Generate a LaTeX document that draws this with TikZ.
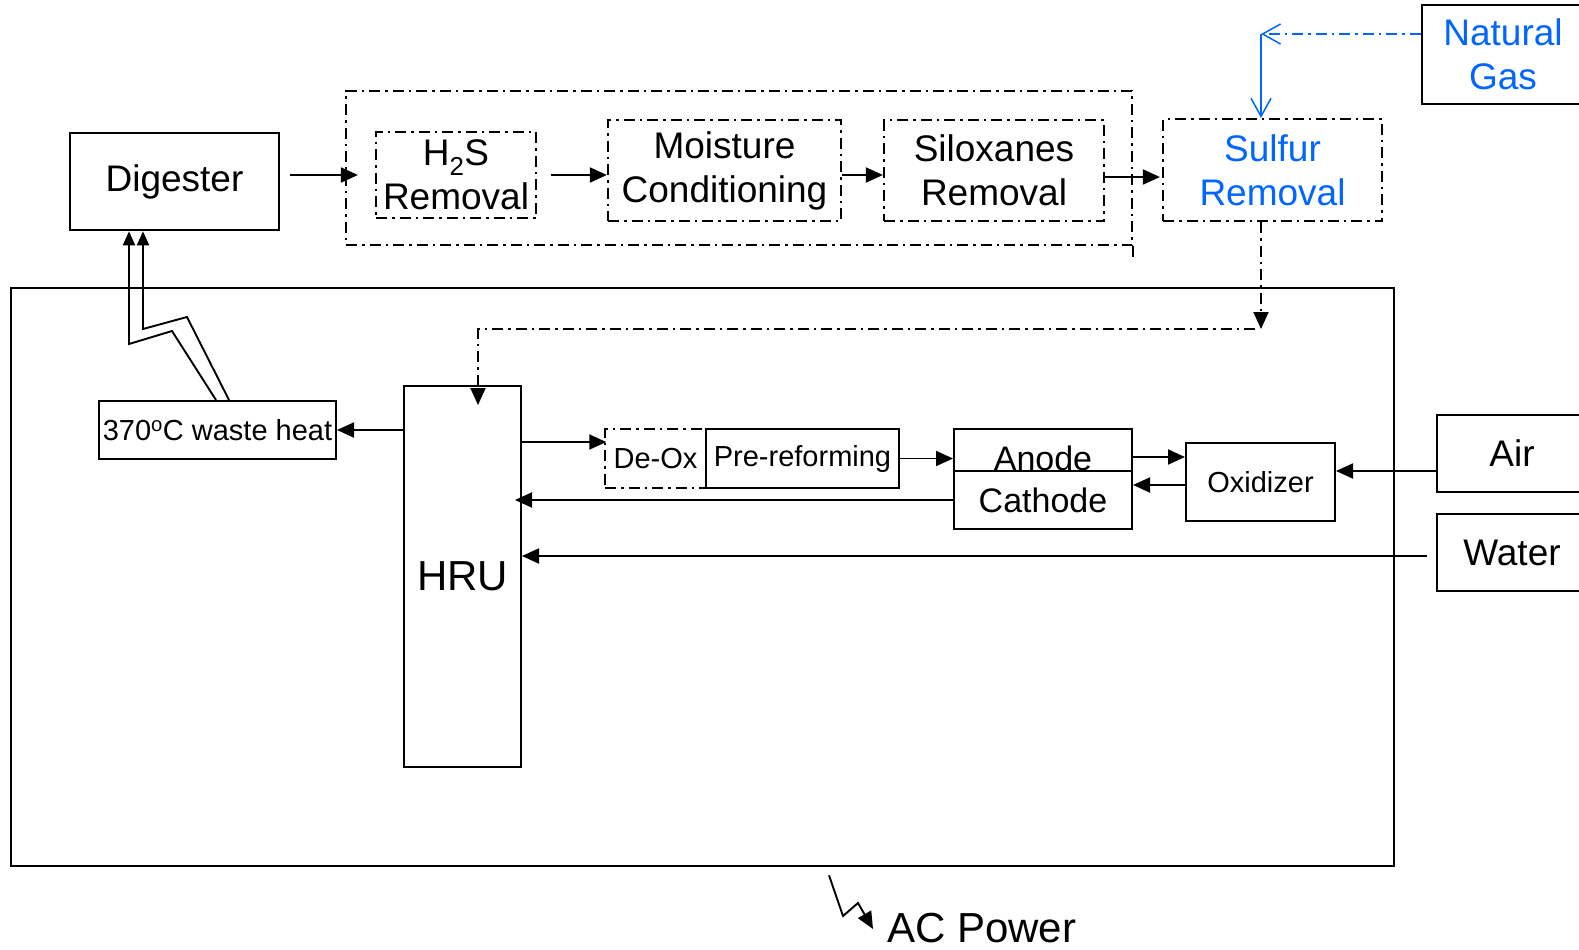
\documentclass[tikz,border=0pt]{standalone}
\usepackage{fontspec}
\setmainfont{Liberation Sans}
\usepackage{xcolor}
\usetikzlibrary{arrows.meta}
\definecolor{gasblue}{RGB}{0,102,255}
\tikzset{every node/.append style={font=\fontsize{37}{44}\selectfont, align=center, inner sep=0pt}}

\begin{document}
\begin{tikzpicture}[x=1pt, y=-1pt, >={Triangle[length=17pt,width=15pt]},
    box/.style={draw, line width=2pt},
    dashdot/.style={dash pattern=on 11pt off 5pt on 2.5pt off 5pt},
    wire/.style={line width=1.9pt},
    small/.style={font=\fontsize{29}{35}\selectfont}]
    \useasboundingbox (0,0) rectangle (1579,950);
    % fuel cell enclosure
    \node[box, line width=2.6pt, minimum width=1383, minimum height=578] (fc) at (702.5,577) {};
    % gas cleaning train
    \node[box, line width=2.6pt, minimum width=209, minimum height=97] (dig) at (174.5,181.5) {Digester};
    \node[box, dashdot, line width=2.2pt, minimum width=786, minimum height=154] (clean) at (739,168) {};
    \node[box, dashdot, line width=2.2pt, minimum width=160, minimum height=86] (h2s) at (456,175) {H\textsubscript{2}S\\Removal};
    \node[box, dashdot, line width=2.2pt, minimum width=233, minimum height=101] (moist) at (724.5,170.5) {Moisture\\Conditioning};
    \node[box, dashdot, line width=2.2pt, minimum width=220, minimum height=101] (silox) at (994,170.5) {Siloxanes\\Removal};
    \node[box, dashdot, line width=2.2pt, text=gasblue, minimum width=219, minimum height=102] (sulfur) at (1272.5,170) {Sulfur\\Removal};
    \node[box, line width=2.2pt, text=gasblue, minimum width=162, minimum height=99] (gas) at (1503,54.5) {Natural\\Gas};
    % inside the plant
    \node[box, font=\fontsize{42}{50}\selectfont, minimum width=117, minimum height=381] (hru) at (462.5,576.5) {HRU};
    \node[box, small, minimum width=237, minimum height=58] (heat) at (217.5,430) {370\textsuperscript{o}C waste heat};
    \node[box, dashdot, line width=1.5pt, small, minimum width=101, minimum height=59] (deox) at (655.5,458.5) {De-Ox};
    \node[box, small, minimum width=193, minimum height=59] (prere) at (802.5,458.5) {Pre-reforming};
    \node[box, minimum width=178, minimum height=42] (anode) at (1043,450) {};
    \node[font=\fontsize{34}{40}\selectfont] (anodetxt) at (1043,458) {Anode};
    \node[box, font=\fontsize{34}{40}\selectfont, minimum width=178, minimum height=58] (cath) at (1043,500) {Cathode};
    \node[box, small, minimum width=149, minimum height=78] (oxid) at (1260.5,482) {Oxidizer};
    \node[box, minimum width=150, minimum height=77] (air) at (1512,453.5) {Air};
    \node[box, minimum width=150, minimum height=77] (water) at (1512,552.5) {Water};
    \node[anchor=base west, font=\fontsize{42}{50}\selectfont] (ac) at (887,942) {AC Power};
    \draw[dashdot, line width=2.2pt] (clean.south east) -- ++(0,14);

    % biogas path
    \draw[wire,->] ([xshift=10pt,yshift=6.5pt]dig.east) -- ([xshift=-17pt]h2s.west);
    \draw[wire,->] ([xshift=14pt]h2s.east) -- ([yshift=-4.5pt]moist.west);
    \draw[wire,->] ([yshift=-4.5pt]moist.east) -- ([yshift=-4.5pt]silox.west);
    \draw[wire,->] ([yshift=-6.5pt]silox.east) -- ([xshift=-2pt,yshift=-7pt]sulfur.west);
    \coordinate (sdrop) at (1261,329);
    \coordinate (hin) at (478,405);
    \draw[wire, dashdot, ->] ([xshift=-11.5pt]sulfur.south) -- (sdrop);
    \draw[wire, dashdot, ->] ([xshift=-6pt]sdrop) -| (hin);
    \coordinate (gcorner) at (1261,34);
    \draw[line width=1.5pt, gasblue, dashdot, -{Straight Barb[length=18pt,width=20pt]}] ([yshift=20.5pt]gas.west) -- (gcorner);
    \draw[line width=1.5pt, gasblue, -{Straight Barb[length=18pt,width=20pt]}] (gcorner) -- ([xshift=-11.5pt]sulfur.north);

    % heat recovery
    \draw[wire,->] (hru.west |- heat.east) -- (heat.east);
    \draw[wire,-{Triangle[length=14pt,width=12pt]}] ([xshift=-1.5pt]heat.north) -- (172,331) -- (129,344) -- ([xshift=-45.5pt]dig.south);
    \draw[wire,-{Triangle[length=14pt,width=12pt]}] ([xshift=11.5pt]heat.north) -- (187,317) -- (143,329) -- ([xshift=-31.5pt]dig.south);

    % stack
    \coordinate (dxin) at ([xshift=2pt,yshift=16.5pt]deox.west);
    \draw[wire,->] (hru.east |- dxin) -- (dxin);
    \draw[wire,->] (prere.east) -- (prere.east -| anode.west);
    \coordinate (aout) at ([yshift=-7pt]anode.east);
    \draw[wire,->] (aout) -- (aout -| oxid.west);
    \coordinate (oout) at ([yshift=-3pt]oxid.west);
    \draw[wire,->] (oout) -- (oout -| cath.east);
    \coordinate (ain) at ([yshift=11pt]oxid.east);
    \draw[wire,->] (ain -| air.west) -- (ain);
    \draw[wire,->, shorten >=-7pt] (cath.west) -- (hru.east |- cath.west);
    \coordinate (win) at ([xshift=-9pt,yshift=-3.5pt]water.west);
    \draw[wire,->] (win) -- (win -| hru.east);

    % power out
    \coordinate (acend) at (873,929);
    \draw[wire,->] ([xshift=126.5pt,yshift=-8pt]fc.south) -- (843,916) -- (858,903) -- (acend);
\end{tikzpicture}
\end{document}
